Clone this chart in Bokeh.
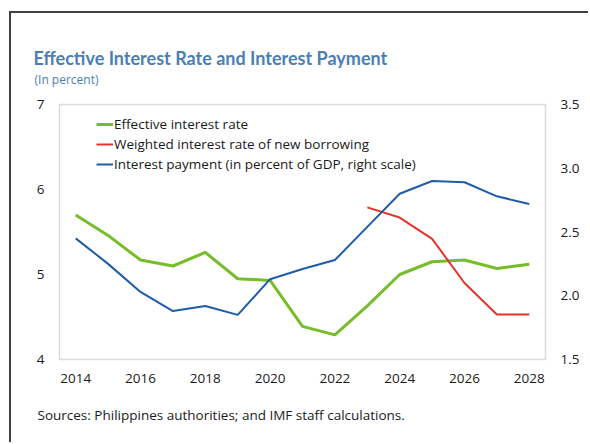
from bokeh.plotting import figure
from bokeh.models import Range1d, LinearAxis, Title, FixedTicker, Legend, LegendItem, PrintfTickFormatter
from bokeh.embed import file_html
from bokeh.resources import INLINE

years = list(range(2014, 2029))
effective_rate = [5.70, 5.46, 5.17, 5.10, 5.26, 4.95, 4.93, 4.39, 4.29, 4.63, 5.00, 5.15, 5.17, 5.07, 5.12]
new_borrowing_years = [2023, 2024, 2025, 2026, 2027, 2028]
new_borrowing_rate = [5.79, 5.67, 5.42, 4.90, 4.53, 4.53]
interest_payment = [2.45, 2.25, 2.03, 1.88, 1.92, 1.85, 2.13, 2.21, 2.28, 2.54, 2.80, 2.90, 2.89, 2.78, 2.72]
x_ticks = [2014, 2016, 2018, 2020, 2022, 2024, 2026, 2028]
left_ticks = [4, 5, 6, 7]
right_ticks = [1.5, 2.0, 2.5, 3.0, 3.5]

FONT = "Open Sans"
GREEN = "#77bc2a"
RED = "#e5332a"
BLUE = "#1f5ca8"
TITLE_BLUE = "#4a7eb5"

p = figure(width=579, height=431, x_range=Range1d(2013.5, 2028.5), y_range=Range1d(4, 7),
           output_backend="svg", toolbar_location=None,
           min_border_left=48, min_border_right=45, min_border_top=91, min_border_bottom=85,
           x_axis_type=None, y_axis_type=None)
p.extra_y_ranges = {"right": Range1d(1.5, 3.5)}
p.xgrid.visible = False
p.ygrid.visible = False
p.outline_line_color = "#d9d9d9"
p.outline_line_width = 1.5
p.styles = {"margin-left": "9px", "margin-top": "11px",
            "border-left": "2px solid #404040", "border-top": "2px solid #404040"}

def style_axis(ax, standoff):
    ax.axis_line_color = None
    ax.major_tick_line_color = None
    ax.minor_tick_line_color = None
    ax.major_tick_out = 0
    ax.major_tick_in = 0
    ax.minor_tick_out = 0
    ax.minor_tick_in = 0
    ax.major_label_text_font = FONT
    ax.major_label_text_font_size = "13.5px"
    ax.major_label_text_color = "#1a1a1a"
    ax.major_label_standoff = standoff

xa = LinearAxis(ticker=FixedTicker(ticks=x_ticks))
style_axis(xa, 14)
p.add_layout(xa, "below")
ya = LinearAxis(ticker=FixedTicker(ticks=left_ticks))
style_axis(ya, 15)
p.add_layout(ya, "left")
ya2 = LinearAxis(y_range_name="right", ticker=FixedTicker(ticks=right_ticks),
                 formatter=PrintfTickFormatter(format="%.1f"))
style_axis(ya2, 15)
p.add_layout(ya2, "right")

r1 = p.line(years, effective_rate, line_color=GREEN, line_width=3)
r2 = p.line(new_borrowing_years, new_borrowing_rate, line_color=RED, line_width=2)
r3 = p.line(years, interest_payment, line_color=BLUE, line_width=2, y_range_name="right")

legend = Legend(items=[
    LegendItem(label="Effective interest rate", renderers=[r1]),
    LegendItem(label="Weighted interest rate of new borrowing", renderers=[r2]),
    LegendItem(label="Interest payment (in percent of GDP, right scale)", renderers=[r3]),
], location=(37, 185))
legend.background_fill_alpha = 0
legend.border_line_color = None
legend.padding = 0
legend.margin = 0
legend.spacing = 0
legend.glyph_width = 17
legend.glyph_height = 20
legend.label_height = 20
legend.label_standoff = 1
legend.label_text_font = FONT
legend.label_text_font_size = "13.5px"
legend.label_text_color = "#1a1a1a"
p.add_layout(legend, "center")

sub = Title(text="(In percent)", align="left", offset=-25, standoff=34,
            text_font=FONT, text_font_size="12px", text_font_style="normal", text_color=TITLE_BLUE)
p.add_layout(sub, "above")
main = Title(text="Effective Interest Rate and Interest Payment", align="left", offset=-26, standoff=-34,
             text_font="Lato", text_font_size="18px", text_font_style="bold", text_color=TITLE_BLUE)
p.add_layout(main, "above")

src = Title(text="Sources: Philippines authorities; and IMF staff calculations.", align="left", offset=-22,
            standoff=36, text_font=FONT, text_font_size="13.5px", text_font_style="normal", text_color="#1a1a1a")
p.add_layout(src, "below")

open("out.html", "w").write(file_html(p, INLINE))
